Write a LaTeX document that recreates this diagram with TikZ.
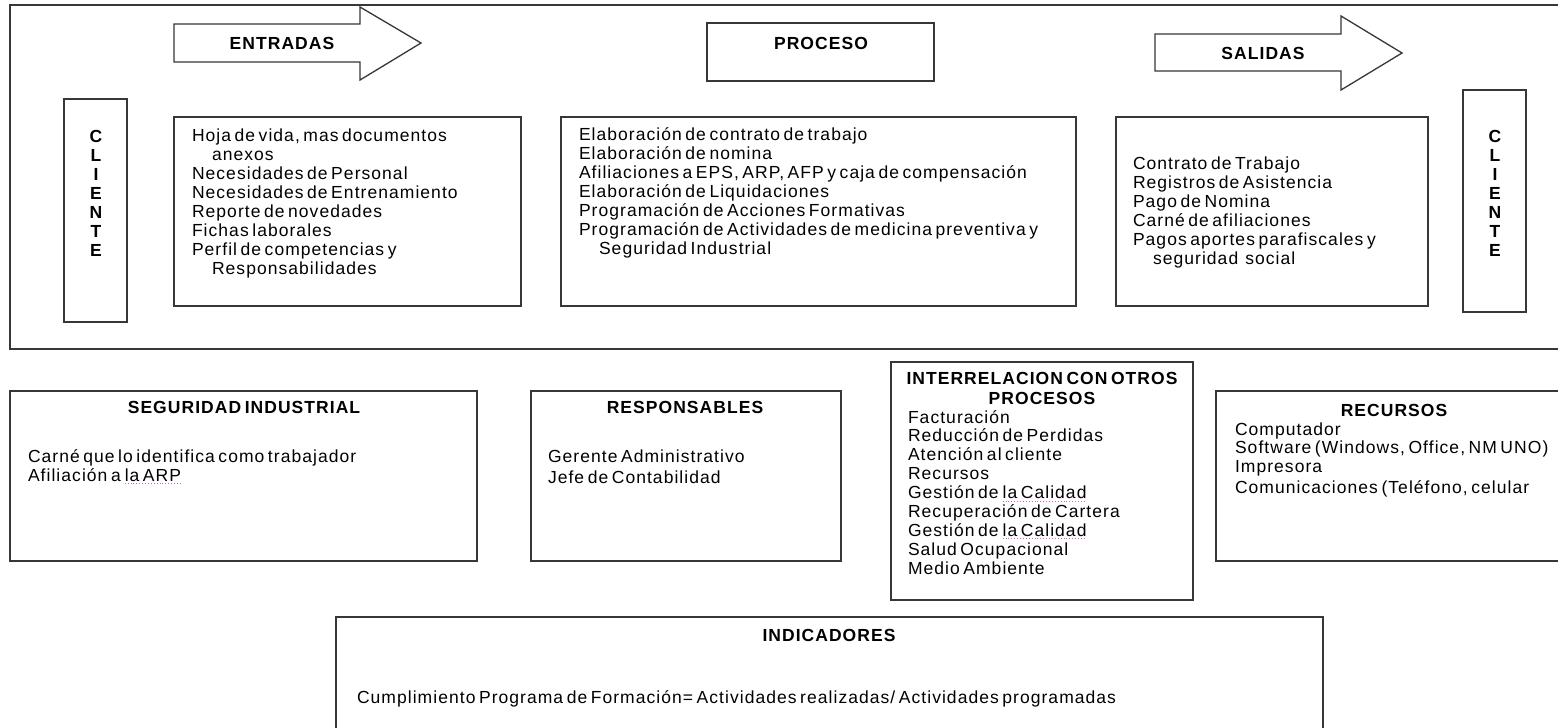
\documentclass[tikz,border=0pt]{standalone}
\usepackage{fontspec}
\setmainfont{Liberation Sans}[LetterSpace=6,WordSpace=0.6]
\definecolor{spellpink}{RGB}{214,90,200}
\definecolor{linegray}{RGB}{55,55,55}
\tikzset{
  box/.style={draw=linegray, line width=1.5pt},
  txt/.style={anchor=base west, inner sep=0pt, outer sep=0pt, font=\fontsize{17.5}{19}\selectfont, text=black},
  ttl/.style={anchor=base, inner sep=0pt, outer sep=0pt, font=\fontsize{17.5}{19}\selectfont\bfseries, text=black},
  spell/.style={draw=spellpink, dotted, line width=0.9pt}
}
\newcommand\spl[1]{\tikz[baseline=(w.base)]{\node[inner sep=0pt,outer sep=0pt](w){#1};\draw[spell]([yshift=-2.5pt]w.base west)--([yshift=-2.5pt]w.base east);}}
\begin{document}
\begin{tikzpicture}[x=1pt,y=-1pt]
\useasboundingbox (0,0) rectangle (1558,728);
\clip (0,0) rectangle (1558,728);
\fill[white] (0,0) rectangle (1558,728);

% ---------- top frame ----------
\draw[box] (10,5) rectangle (1620,349);

% CLIENTE boxes
\draw[box] (64,99) rectangle (127,322);
\draw[box] (1463,90) rectangle (1526,312);
\foreach \l [count=\i] in {C,L,I,E,N,T,E}{
  \node[ttl] (cla\i) at (96,{142+19*(\i-1)}) {\l};
  \node[ttl] (clb\i) at (1495,{142+19*(\i-1)}) {\l};
}

% ENTRADAS arrow
\draw[box, line width=1.3pt, line join=miter] (174,24) -- (360,24) -- (360,7) -- (421,43) -- (360,80) -- (360,62) -- (174,62) -- cycle;
\node[ttl] (entradas) at (282,49) {ENTRADAS};

% PROCESO title box
\draw[box] (707,23) rectangle (934,81);
\node[ttl] (proceso) at (821,49) {PROCESO};

% SALIDAS arrow
\draw[box, line width=1.3pt, line join=miter] (1155,34) -- (1341,34) -- (1341,16) -- (1402,53) -- (1341,90) -- (1341,71) -- (1155,71) -- cycle;
\node[ttl] (salidas) at (1263,59) {SALIDAS};

% ENTRADAS list
\draw[box] (174,117) rectangle (521,306);
\foreach \t [count=\i] in {{Hoja de vida, mas documentos},{\hspace*{20pt}anexos},{Necesidades de Personal},{Necesidades de Entrenamiento},{Reporte de novedades},{Fichas laborales},{Perfil de competencias y},{\hspace*{20pt}Responsabilidades}}
  \node[txt] (ent\i) at (192,{141+19*(\i-1)}) {\t};

% PROCESO list
\draw[box] (561,117) rectangle (1076,306);
\foreach \t [count=\i] in {{Elaboración de contrato de trabajo},{Elaboración de nomina},{Afiliaciones a EPS, ARP, AFP y caja de compensación},{Elaboración de Liquidaciones},{Programación de Acciones Formativas},{Programación de Actividades de medicina preventiva y},{\hspace*{20pt}Seguridad Industrial}}
  \node[txt] (pro\i) at (579,{140+19*(\i-1)}) {\t};

% SALIDAS list
\draw[box] (1116,117) rectangle (1428,306);
\foreach \t [count=\i] in {{Contrato de Trabajo},{Registros de Asistencia},{Pago de Nomina},{Carné de afiliaciones},{Pagos aportes parafiscales y},{\hspace*{20pt}seguridad\ \ social}}
  \node[txt] (sal\i) at (1133,{169+19*(\i-1)}) {\t};

% ---------- bottom boxes ----------
% SEGURIDAD INDUSTRIAL
\draw[box] (10,391) rectangle (477,561);
\node[ttl] (segt) at (244,413) {SEGURIDAD INDUSTRIAL};
\node[txt] (seg1) at (28,462) {Carné que lo identifica como trabajador};
\node[txt] (seg2) at (28,481) {Afiliación a \spl{la ARP}};

% RESPONSABLES
\draw[box] (531,391) rectangle (841,561);
\node[ttl] (rest) at (685,413) {RESPONSABLES};
\node[txt] (res1) at (548,462) {Gerente Administrativo};
\node[txt] (res2) at (548,483) {Jefe de Contabilidad};

% INTERRELACION
\draw[box] (891,362) rectangle (1193,600);
\node[ttl] (intt1) at (1042,384) {INTERRELACION CON OTROS};
\node[ttl] (intt2) at (1042,404) {PROCESOS};
\foreach \t [count=\i] in {{Facturación},{Reducción de Perdidas},{Atención al cliente},{Recursos},{Gestión de \spl{la Calidad}},{Recuperación de Cartera},{Gestión de \spl{la Calidad}},{Salud Ocupacional},{Medio Ambiente}}
  \node[txt] (int\i) at (908,{423+18.9*(\i-1)}) {\t};

% RECURSOS
\draw[box] (1216,391) rectangle (1620,561);
\node[ttl] (rect) at (1394,416) {RECURSOS};
\node[txt] (rec1) at (1235,435) {Computador};
\node[txt] (rec2) at (1235,453) {Software (Windows, Office, NM UNO)};
\node[txt] (rec3) at (1235,472) {Impresora};
\node[txt] (rec4) at (1235,493) {Comunicaciones (Teléfono, celular};

% INDICADORES
\draw[box] (336,617) rectangle (1323,780);
\node[ttl] (indt) at (829,641) {INDICADORES};
\node[txt] (ind1) at (357,703) {Cumplimiento Programa de Formación= Actividades realizadas/ Actividades programadas};
\end{tikzpicture}
\end{document}
